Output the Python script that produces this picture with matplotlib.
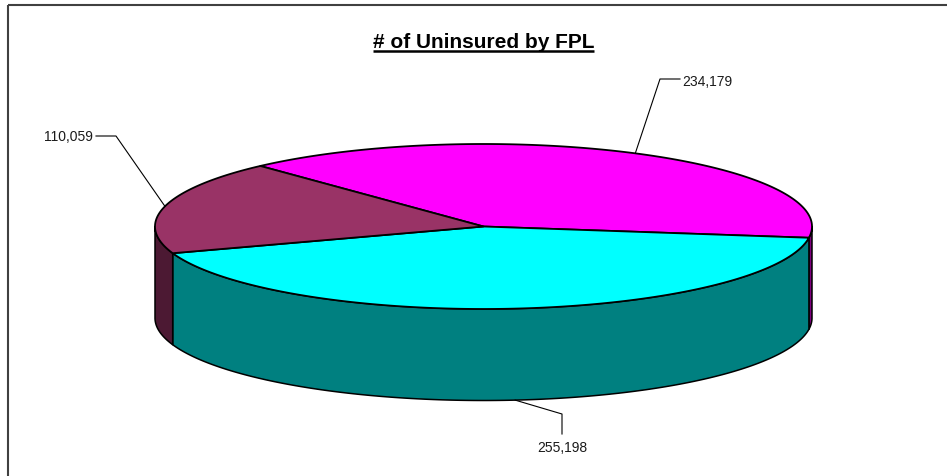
import numpy as np
import matplotlib
matplotlib.use("Agg")
import matplotlib.pyplot as plt
from matplotlib.patches import Polygon

# ---- data (clockwise order, as drawn by the spreadsheet) ----
values = [234179, 255198, 110059]
labels = ["234,179", "255,198", "110,059"]
top_colors = ["#FF00FF", "#00FFFF", "#993366"]
side_colors = ["#800080", "#008080", "#4C1933"]
title = "# of Uninsured by FPL"

# ---- layout (pixel space) ----
W, H = 947, 477
cx, cy, a, b, depth = 483.5, 227.5, 328.5, 82.5, 91.5
start_angle = 132.8  # degrees, slices proceed clockwise

fig = plt.figure(figsize=(W / 100, H / 100), dpi=100)
ax = fig.add_axes([0, 0, 1, 1])
ax.set_xlim(0, W)
ax.set_ylim(H, 0)
ax.axis("off")

def pt(t, dz=0.0):
    r = np.radians(t)
    return cx + a * np.cos(r), cy - b * np.sin(r) + dz

total = float(sum(values))
spans = [v / total * 360.0 for v in values]

# slice angular ranges (counter-clockwise lo -> hi)
ranges = []
hi = start_angle
for s in spans:
    lo = hi - s
    ranges.append((lo, hi))
    hi = lo

# side walls (front half only: 180..360)
for (lo, hi), sc in zip(ranges, side_colors):
    lo_n = lo % 360.0
    hi_n = lo_n + (hi - lo)
    for base in (0.0, 360.0):
        t1 = max(lo_n, 180.0 + base)
        t2 = min(hi_n, 360.0 + base)
        if t2 > t1:
            ts = np.linspace(t1, t2, 200)
            top = [pt(t) for t in ts]
            bot = [pt(t, depth) for t in ts[::-1]]
            ax.add_patch(Polygon(top + bot, closed=True, facecolor=sc,
                                 edgecolor="black", lw=1.1, zorder=2,
                                 joinstyle="round"))

# top faces
for (lo, hi), tc in zip(ranges, top_colors):
    ts = np.linspace(lo, hi, 300)
    poly = [(cx, cy)] + [pt(t) for t in ts]
    ax.add_patch(Polygon(poly, closed=True, facecolor=tc, edgecolor="black",
                         lw=1.3, zorder=3, joinstyle="round"))

# data labels with leader lines
label_font = dict(family="Liberation Sans", size=10, color="#1a1a1a")
for i, ((lo, hi), txt) in enumerate(zip(ranges, labels)):
    mid = (lo + hi) / 2.0
    mid_n = mid % 360.0
    if 180.0 < mid_n < 360.0:
        ax_, ay_ = pt(mid, depth)
    else:
        ax_, ay_ = pt(mid)
    if i == 0:
        ex, ey = 660, 80
        ax.plot([ax_, ex, 680], [ay_, ey, ey], color="black", lw=0.8, zorder=4)
        ax.text(682, 85.5, txt, ha="left", va="baseline", **label_font)
    elif i == 1:
        ex, ey = 562, 415
        ax.plot([ax_, ex, ex], [ay_, ey, 435], color="black", lw=0.8, zorder=4)
        ax.text(562, 452.5, txt, ha="center", va="baseline", **label_font)
    else:
        ex, ey = 116, 137
        ax.plot([ax_, ex, 96], [ay_, ey, ey], color="black", lw=0.8, zorder=4)
        ax.text(93, 141.5, txt, ha="right", va="baseline", **label_font)

# title with underline
t = ax.text(483.5, 48, title, ha="center", va="baseline",
            family="Liberation Sans", weight="bold", size=15, color="black")
fig.canvas.draw()
bb = t.get_window_extent().transformed(ax.transData.inverted())
x0, x1 = min(bb.x0, bb.x1), max(bb.x0, bb.x1)
ax.plot([x0, x1], [52, 52], color="black", lw=1.8, solid_capstyle="butt")

# chart frame (top and left edges visible)
ax.plot([8, 947], [5.5, 5.5], color="#404040", lw=1.5, solid_capstyle="butt")
ax.plot([8, 8], [5.5, 477], color="#404040", lw=1.5, solid_capstyle="butt")

fig.savefig("out.png", dpi=100)
